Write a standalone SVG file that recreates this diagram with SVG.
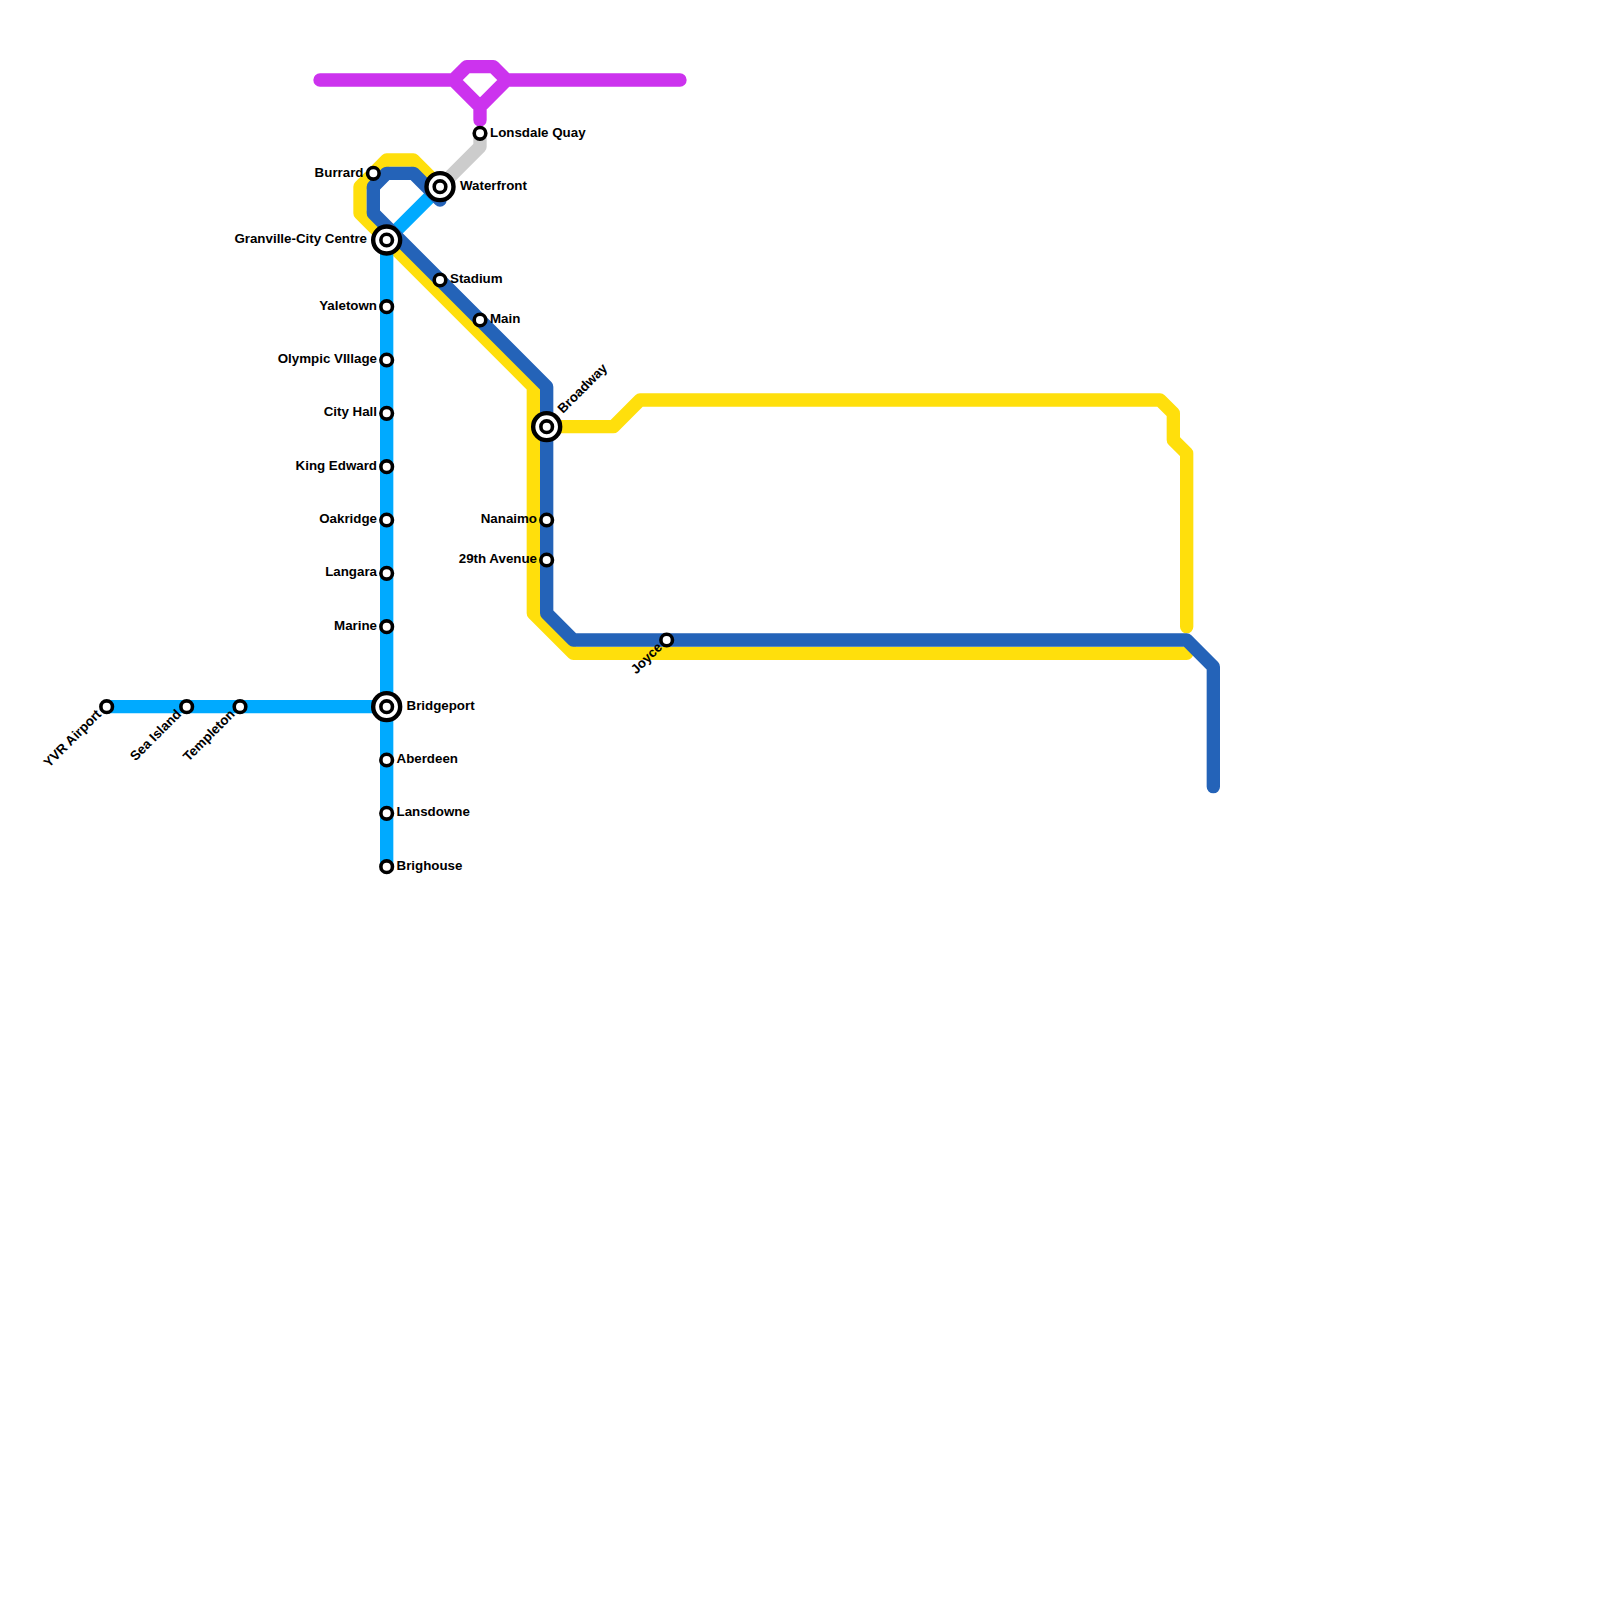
<svg xmlns="http://www.w3.org/2000/svg" width="1600" height="1600" viewBox="0 0 1600 1600">
<style>
.l{fill:none;stroke-width:13.33;stroke-linecap:round;stroke-linejoin:round}
.st{fill:#fff;stroke:#000;stroke-width:3.6}
.ir{fill:#fff;stroke:#000;stroke-width:4.4}
text{font-family:"Liberation Sans",Arial,sans-serif;font-size:13.33px;font-weight:bold;fill:#000}
.e{text-anchor:end}
</style>
<defs>
<g id="s"><circle class="st" r="5.8"/></g>
<g id="i"><circle class="ir" r="13.5"/><circle class="st" r="5.8"/></g>
</defs>
<rect width="1600" height="1600" fill="#fff"/>
<g id="connectors">
<path class="l" stroke="#cccccc" d="M480 133.33V146.67L440 186.67"/>
<path class="l" stroke="#cc33ee" d="M320 80H453.33L466.67 66.67H493.33L506.67 80L480 106.67L453.33 80M506.67 80H680M480 106.67V120"/>
<path class="l" stroke="#ffdf0c" d="M440 186.67L413.33 160H386.67L360 186.67V213.33L533.33 386.67V613.33L573.33 653.33H1186.67"/>
<path class="l" stroke="#ffdf0c" d="M546.67 426.67H613.33L640 400H1160L1173.33 413.33V440L1186.67 453.33V626.67"/>
<path class="l" stroke="#00aaff" d="M106.67 706.67H386.67M386.67 866.67V240L440 186.67"/>
<path class="l" stroke="#2463b8" d="M440 200L413.33 173.33H386.67L373.33 186.67V213.33L546.67 386.67V613.33L573.33 640H1186.67L1213.33 666.67V786.67"/>
</g>
<g id="lonsdale-quay"><use href="#s" x="480" y="133.33"/><text x="490" y="136.5">Lonsdale Quay</text></g>
<g id="burrard"><use href="#s" x="373.33" y="173.33"/><text class="e" x="363.5" y="176.5">Burrard</text></g>
<g id="waterfront"><use href="#i" x="440" y="186.67"/><text x="460" y="189.5">Waterfront</text></g>
<g id="granville"><use href="#i" x="386.67" y="240"/><text class="e" x="367" y="243">Granville-City Centre</text></g>
<g id="yaletown"><use href="#s" x="386.67" y="306.67"/><text class="e" x="377" y="309.5">Yaletown</text></g>
<g id="olympic-village"><use href="#s" x="386.67" y="360"/><text class="e" x="377" y="362.8">Olympic VIllage</text></g>
<g id="city-hall"><use href="#s" x="386.67" y="413.33"/><text class="e" x="377" y="416">City Hall</text></g>
<g id="king-edward"><use href="#s" x="386.67" y="466.67"/><text class="e" x="377" y="469.5">King Edward</text></g>
<g id="oakridge"><use href="#s" x="386.67" y="520"/><text class="e" x="377" y="522.8">Oakridge</text></g>
<g id="langara"><use href="#s" x="386.67" y="573.33"/><text class="e" x="377" y="576">Langara</text></g>
<g id="marine"><use href="#s" x="386.67" y="626.67"/><text class="e" x="377" y="629.5">Marine</text></g>
<g id="bridgeport"><use href="#i" x="386.67" y="706.67"/><text x="406.5" y="709.5">Bridgeport</text></g>
<g id="aberdeen"><use href="#s" x="386.67" y="760"/><text x="396.5" y="762.8">Aberdeen</text></g>
<g id="lansdowne"><use href="#s" x="386.67" y="813.33"/><text x="396.5" y="816">Lansdowne</text></g>
<g id="brighouse"><use href="#s" x="386.67" y="866.67"/><text x="396.5" y="869.5">Brighouse</text></g>
<g id="yvr-airport"><use href="#s" x="106.67" y="706.67"/><text class="e" transform="translate(102 715) rotate(-45)">YVR Airport</text></g>
<g id="sea-island"><use href="#s" x="186.67" y="706.67"/><text class="e" transform="translate(182 715) rotate(-45)">Sea Island</text></g>
<g id="templeton"><use href="#s" x="240" y="706.67"/><text class="e" transform="translate(235.5 715) rotate(-45)">Templeton</text></g>
<g id="stadium"><use href="#s" x="440" y="280"/><text x="450" y="282.8">Stadium</text></g>
<g id="main"><use href="#s" x="480" y="320"/><text x="490" y="322.8">Main</text></g>
<g id="broadway"><use href="#i" x="546.67" y="426.67"/><text transform="translate(563 414) rotate(-45)">Broadway</text></g>
<g id="nanaimo"><use href="#s" x="546.67" y="520"/><text class="e" x="537" y="522.8">Nanaimo</text></g>
<g id="twenty-ninth"><use href="#s" x="546.67" y="560"/><text class="e" x="537" y="562.8">29th Avenue</text></g>
<g id="joyce"><use href="#s" x="666.67" y="640"/><text class="e" transform="translate(663 648) rotate(-45)">Joyce</text></g>
</svg>
